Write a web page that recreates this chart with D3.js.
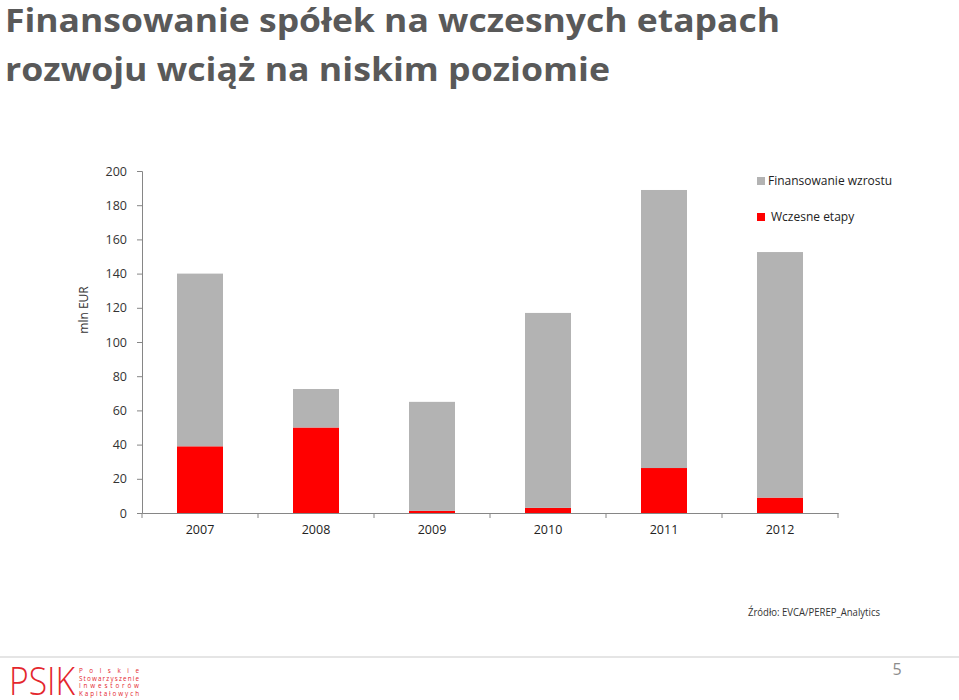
<!DOCTYPE html>
<html><head><meta charset="utf-8">
<script src="https://cdn.jsdelivr.net/npm/d3@7"></script>
<style>body{margin:0;background:#fff}svg{display:block}</style>
</head><body>
<svg id="c" width="959" height="700"></svg>
<script>
const years = ["2007","2008","2009","2010","2011","2012"];
const earlyStage = [39, 50, 1.2, 3, 26.3, 9];
const growth = [101, 22.5, 63.8, 114, 162.6, 143.6];
const yTicks = [0,20,40,60,80,100,120,140,160,180,200];
const seriesNames = ["Finansowanie wzrostu","Wczesne etapy"];
const colors = {growth:"#b3b3b3", early:"#ff0000"};

const svg = d3.select("#c");

// Title
const title = svg.append("g").attr("font-family","'Open Sans', sans-serif").attr("font-weight","bold").attr("fill","#595959").attr("font-size",33);
title.append("text").attr("x",5).attr("y",32).attr("textLength",775).attr("lengthAdjust","spacingAndGlyphs").text("Finansowanie spółek na wczesnych etapach");
title.append("text").attr("x",5).attr("y",81).attr("textLength",605).attr("lengthAdjust","spacingAndGlyphs").text("rozwoju wciąż na niskim poziomie");

const xb = d3.scaleBand().domain(years).range([142,838]);
const y = d3.scaleLinear().domain([0,200]).range([513,171]);

const data = years.map((yr,i)=>({year:yr, early:earlyStage[i], growth:growth[i]}));
const stack = d3.stack().keys(["early","growth"])(data);

const g = svg.append("g");
g.selectAll("g.s").data(stack).join("g").attr("fill",d=>colors[d.key])
 .selectAll("rect").data(d=>d).join("rect")
 .attr("x",d=>xb(d.data.year)+xb.bandwidth()/2-23).attr("width",46)
 .attr("y",d=>y(d[1])).attr("height",d=>y(d[0])-y(d[1]));

// Y axis
const ya = svg.append("g").attr("transform","translate(142,0)")
 .call(d3.axisLeft(y).tickValues(yTicks).tickSize(5).tickPadding(10));
ya.select(".domain").attr("stroke","#868686");
ya.selectAll(".tick line").attr("stroke","#868686");
ya.selectAll("text").attr("font-family","'Open Sans', sans-serif").attr("font-size",12.5).attr("fill","#333");

// X axis
const xa = svg.append("g").attr("transform","translate(0,513)")
 .call(d3.axisBottom(xb).tickSize(0).tickPadding(12).tickSizeOuter(0));
xa.select(".domain").attr("stroke","#868686");
xa.selectAll("text").attr("font-family","'Open Sans', sans-serif").attr("font-size",12.5).attr("fill","#222");
xa.selectAll(".bt").data(years.concat(["end"])).join("line")
 .attr("x1",(d,i)=>142+xb.step()*i).attr("x2",(d,i)=>142+xb.step()*i)
 .attr("y1",0).attr("y2",5).attr("stroke","#868686");

svg.append("text").attr("transform","translate(88,310) rotate(-90)").attr("text-anchor","middle")
 .attr("font-family","'Open Sans', sans-serif").attr("font-size",12).attr("fill","#333").text("mln EUR");

// Legend
const leg = svg.append("g").attr("font-family","'Open Sans', sans-serif").attr("font-size",12).attr("fill","#222");
[[colors.growth,seriesNames[0],181,768],[colors.early,seriesNames[1],217,771]].forEach(([c,t,cy,tx])=>{
  leg.append("rect").attr("x",757).attr("y",cy-4).attr("width",8).attr("height",8).attr("fill",c);
  leg.append("text").attr("x",tx).attr("y",cy+4).text(t);
});

// Source
svg.append("text").attr("x",748).attr("y",616).attr("font-family","'Open Sans', sans-serif").attr("font-size",10)
 .attr("fill","#333").attr("textLength",132).attr("lengthAdjust","spacingAndGlyphs").text("Źródło: EVCA/PEREP_Analytics");

// Footer
svg.append("line").attr("x1",0).attr("x2",959).attr("y1",657).attr("y2",657).attr("stroke","#dcdcdc").attr("stroke-width",1.5);
svg.append("text").attr("x",897).attr("y",675).attr("text-anchor","middle").attr("font-family","'Open Sans', sans-serif")
 .attr("font-size",16).attr("fill","#8c8c8c").text("5");

const logo = svg.append("g").attr("fill","#e4262d").attr("font-family","'Open Sans', sans-serif");
logo.append("text").attr("x",9).attr("y",695).attr("font-size",38).attr("font-weight",300)
 .attr("textLength",66).attr("lengthAdjust","spacingAndGlyphs").text("PSIK");
["Polskie","Stowarzyszenie","Inwestorów","Kapitałowych"].forEach((t,i)=>{
  logo.append("text").attr("x",79).attr("y",673+i*7.7).attr("font-size",6.3)
   .attr("textLength",60).attr("lengthAdjust","spacing").text(t);
});
</script>
</body></html>
